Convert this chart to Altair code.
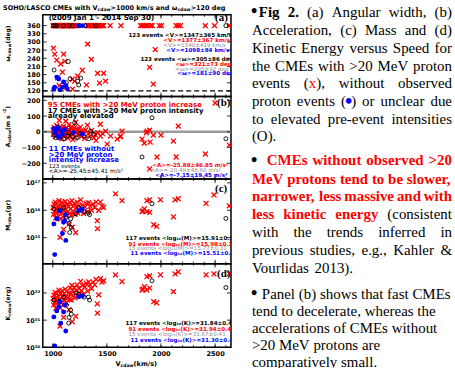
import altair as alt
import pandas as pd

# ---------------- values ----------------
X_DOMAIN = [908, 2647]                 # V_cdaw (km/s)
X_MAJOR = [1000, 1500, 2000, 2500]
X_MINOR = [1000, 1100, 1200, 1300, 1400, 1500, 1600, 1700, 1800, 1900,
           2000, 2100, 2200, 2300, 2400, 2500, 2600]

# (a) angular width (deg)
A_DOMAIN = [100, 400]
A_TICKS = [120, 150, 180, 210, 240, 270, 300, 330, 360]
A_RED = [
    (1003, 360), (1009, 360), (1015, 360), (1021, 360), (1027, 360), (1033, 360), (1039, 360),
    (1045, 360), (1051, 360), (1057, 360), (1063, 360), (1069, 360), (1075, 360), (1081, 360),
    (1087, 360), (1093, 360), (1099, 360), (1105, 360), (1111, 360), (1117, 360), (1123, 360),
    (1129, 360), (1135, 360), (1141, 360), (1147, 360), (1153, 360), (1159, 360), (1165, 360),
    (1171, 360), (1177, 360), (1183, 360), (1189, 360), (1195, 360), (1201, 360), (1208, 360),
    (1216, 360), (1224, 360), (1318, 360), (1326, 360), (1334, 360), (1342, 360), (1350, 360),
    (1358, 360), (1366, 360), (1374, 360), (1382, 360), (1390, 360), (1398, 360), (1406, 360),
    (1414, 360), (1422, 360), (1430, 360), (1438, 360), (1446, 360), (1454, 360), (1462, 360),
    (1470, 360), (1530, 360), (1630, 360), (1812, 360), (1828, 360), (1845, 360), (1862, 360),
    (1880, 360), (1905, 360), (1920, 360), (1985, 360), (2005, 360), (2140, 360), (2160, 360),
    (2180, 360), (2410, 360), (2495, 360), (2635, 360),
    (1006, 277), (1018, 255), (1037, 233), (1100, 255), (1074, 219), (1110, 229), (1089, 189),
    (1322, 292), (1356, 236), (1273, 196), (1230, 175), (1202, 156), (1181, 163), (1089, 134),
    (1312, 142), (1432, 149), (1414, 185), (1488, 156), (1470, 185), (1947, 272), (1895, 207),
    (1929, 145), (1184, 127), (1060, 140), (1045, 168),
]
A_BLACK = [
    (1005, 360), (1020, 360), (1035, 360), (1300, 360), (2600, 360), (1100, 360), (1150, 360),
    (1400, 360), (1180, 360), (1250, 360),
    (1012, 197), (1144, 228), (1230, 156), (1258, 167), (1240, 142), (1160, 165), (1125, 150),
]
A_BLUE = [
    (1240, 360), (1275, 360),
    (1010, 128), (1018, 134), (1037, 171), (1055, 164), (1065, 124), (1089, 134), (1100, 153),
    (1120, 140), (1135, 128),
]

# (b) acceleration (m s^-2)
B_DOMAIN = [-300, 225]
B_TICKS = [-200, -100, 0, 100, 200]
B_RED = [
    (1003, 12), (1008, -18), (1012, 28), (1016, -6), (1020, 5), (1024, -30), (1028, 18),
    (1032, -12), (1036, 40), (1040, 2), (1045, -22), (1050, 24), (1055, -4), (1060, 72),
    (1064, 10), (1068, -35), (1072, 30), (1076, -15), (1080, 6), (1085, -45), (1090, 20),
    (1095, -8), (1100, 35), (1105, -25), (1110, 12), (1115, -2), (1120, 68), (1125, -18),
    (1130, 25), (1135, 5), (1140, -40), (1145, 15), (1150, 45), (1155, -10), (1160, 8),
    (1165, -28), (1170, 22), (1175, -5), (1180, 30), (1185, -50), (1190, 10), (1196, -15),
    (1202, 26), (1208, -35), (1212, 61), (1218, 0), (1225, 15), (1232, -20), (1240, 19),
    (1248, -8), (1256, 30), (1265, -30), (1275, 5), (1285, -15), (1295, -42), (1305, 12),
    (1320, 42), (1330, -12), (1345, -28), (1360, 8), (1380, -38), (1395, -20), (1400, -55),
    (1415, -5), (1440, 48), (1441, -27), (1460, -12), (1488, 4), (1503, -78), (1534, -27),
    (1595, -46), (1626, -27), (1640, 4), (1625, -32),
    (2500, 183), (2160, 36), (1872, 4), (1895, 10), (1865, -6), (1930, -21), (2000, -21),
    (1825, -46), (1846, -72), (1900, -65), (2115, -59), (2410, -141), (2140, -160),
    (1963, -160), (1895, -236), (2632, -84),
]
B_BLACK = [
    (1028, -38), (1135, -27), (1350, 4), (1332, -44), (1202, 57), (1917, 89), (2600, -44),
    (1825, -160), (1180, -30), (1100, -45), (1250, -10), (1060, -35), (1010, -20), (1290, -25),
    (1150, -5), (1220, -40), (1380, -15),
]
B_BLUE = [
    (1010, 20), (1020, -5), (1030, 10), (1040, -25), (1050, 28), (1062, -35), (1075, 5),
    (1090, -15), (1110, 15), (1190, -6), (1273, -15),
]

# (c) log10 mass (g)
C_DOMAIN = [14.05, 17.14]
C_TICKS = [15, 16, 17]
C_RED = [
    (1003, 16.1), (1008, 15.85), (1012, 16.22), (1018, 15.95), (1022, 16.3), (1028, 15.72),
    (1033, 16.05), (1038, 16.25), (1043, 15.9), (1048, 16.15), (1053, 15.78), (1058, 16.35),
    (1063, 16.0), (1067, 15.01), (1070, 15.68), (1075, 16.2), (1080, 15.9), (1085, 16.3),
    (1090, 16.05), (1095, 15.75), (1100, 15.3), (1104, 16.18), (1110, 15.92), (1115, 16.32),
    (1120, 16.02), (1126, 15.8), (1132, 16.22), (1138, 15.95), (1144, 16.12), (1150, 15.5),
    (1155, 15.88), (1160, 16.28), (1166, 16.05), (1172, 15.82), (1176, 16.35), (1180, 15.38),
    (1186, 16.15), (1192, 15.95), (1198, 16.25), (1205, 15.85), (1212, 15.18), (1218, 16.1),
    (1225, 16.3), (1232, 15.9), (1240, 16.15), (1248, 15.98), (1258, 16.38), (1266, 16.02),
    (1275, 16.2), (1285, 15.88), (1298, 16.12), (1310, 16.25), (1322, 15.95), (1332, 16.28),
    (1345, 16.15), (1358, 16.0), (1372, 16.22), (1388, 16.1), (1400, 16.3), (1411, 15.62),
    (1413, 15.33), (1425, 16.0), (1440, 16.3), (1455, 16.15), (1470, 16.1), (1580, 16.6),
    (1640, 16.35),
    (2490, 16.56), (2160, 16.42), (2130, 16.38), (1995, 16.38), (1870, 16.35), (1895, 16.38),
    (1846, 16.05), (1834, 15.98), (1870, 15.95), (1895, 15.92), (1825, 15.95), (2115, 15.76),
    (1933, 15.47), (1960, 15.41), (2417, 16.25), (2632, 16.16),
]
C_BLACK = [
    (1010, 16.05), (1165, 15.69), (1171, 15.37), (1157, 15.19), (1340, 15.84), (1212, 15.87),
    (1917, 16.24), (2600, 15.7), (1330, 15.9), (1150, 15.52), (1060, 16.0), (1125, 15.75),
    (1240, 16.1), (1290, 15.95), (1100, 16.1),
]
C_BLUE = [
    (1018, 14.38), (1010, 15.5), (1037, 15.69), (1067, 15.98), (1110, 15.62), (1120, 15.84),
    (1089, 15.15), (1120, 14.9), (1240, 15.98), (1273, 16.05), (1100, 15.56),
]

# (d) log10 kinetic energy (erg)
D_DOMAIN = [30.0, 33.08]
D_TICKS = [30, 31, 32]
D_RED = [
    (1003, 31.8), (1008, 31.56), (1012, 31.93), (1018, 31.66), (1022, 32.02), (1028, 31.44),
    (1033, 31.78), (1038, 31.98), (1043, 31.64), (1048, 31.9), (1053, 31.53), (1058, 32.1),
    (1063, 31.76), (1067, 30.78), (1070, 31.45), (1075, 31.97), (1080, 31.68), (1085, 32.08),
    (1090, 31.84), (1095, 31.55), (1100, 31.1), (1104, 31.98), (1110, 31.73), (1115, 32.14),
    (1120, 31.85), (1126, 31.64), (1132, 32.07), (1138, 31.81), (1144, 31.99), (1150, 31.38),
    (1155, 31.77), (1160, 32.18), (1166, 31.96), (1172, 31.74), (1176, 32.28), (1180, 30.94),
    (1186, 32.09), (1192, 31.9), (1198, 32.21), (1205, 31.82), (1212, 31.14), (1218, 32.08),
    (1225, 32.3), (1232, 31.9), (1240, 32.17), (1248, 32.01), (1258, 32.43), (1266, 32.08),
    (1275, 32.27), (1285, 31.96), (1298, 32.22), (1310, 32.36), (1322, 32.07), (1332, 32.41),
    (1345, 32.3), (1358, 32.16), (1372, 32.4), (1388, 32.3), (1400, 32.5), (1411, 31.6),
    (1413, 31.26), (1425, 31.93), (1440, 32.53), (1455, 32.4), (1470, 32.45), (1580, 32.67),
    (1640, 32.42),
    (2490, 32.7), (2160, 32.78), (2130, 32.7), (1995, 32.67), (1870, 32.6), (1895, 32.63),
    (1846, 32.23), (1834, 32.15), (1870, 32.11), (1895, 32.18), (1825, 32.11), (2115, 32.05),
    (1933, 31.68), (1960, 31.64), (2417, 32.67), (2632, 32.71),
]
D_BLACK = [
    (1010, 31.74), (1165, 31.37), (1171, 31.22), (1147, 30.89), (1340, 31.74), (1212, 32.0),
    (1917, 32.45), (2600, 32.2), (1330, 31.85), (1150, 31.1), (1060, 31.7), (1125, 31.55),
    (1240, 31.95), (1290, 31.85), (1100, 31.85),
]
D_BLUE = [
    (1018, 30.05), (1010, 31.12), (1074, 30.89), (1120, 30.6), (1067, 31.68), (1110, 31.56),
    (1240, 31.86), (1273, 31.89), (1037, 31.34), (1055, 31.49), (1100, 31.3),
]

# ---------------- styling / layout ----------------
RED, BLUE, GRAY, BLACK = "#ff0000", "#0000ff", "#8c8c8c", "#000000"
SANS, SERIF = "DejaVu Sans", "Liberation Serif"
W = 189
LEFT, TOP = 42, 13
XMARK = "M-1,-1L1,1M1,-1L-1,1"


def pts(pairs):
    return pd.DataFrame(pairs, columns=["v", "y"])


def build_panel(top, h, ydom, yticks, red, black, blue, label_expr=None,
                xaxis=False, refs=(), texts=(), extra=()):
    xs = alt.Scale(domain=X_DOMAIN, nice=False, zero=False)
    ys = alt.Scale(domain=ydom, nice=False, zero=False)
    ykw = dict(values=yticks, ticks=False, tickSize=0, domain=False, grid=False, title=None,
               labelFont=SANS, labelFontSize=6.4, labelFontWeight="bold", labelPadding=3,
               labelColor=BLACK)
    if label_expr:
        ykw["labelExpr"] = label_expr
    yax = alt.Axis(**ykw)
    if xaxis:
        xax = alt.Axis(values=X_MAJOR, ticks=False, tickSize=0, domain=False, grid=False,
                       title=None, labelFont=SANS, labelFontSize=6.6, labelFontWeight="bold",
                       labelPadding=3, labelFlush=False, format="d", labelColor=BLACK)
    else:
        xax = None
    X = alt.X("v:Q", scale=xs, axis=xax)
    Y = alt.Y("y:Q", scale=ys, axis=yax)
    layers = []
    for (val, color, width, dash) in refs:
        kw = dict(color=color, strokeWidth=width)
        if dash:
            kw["strokeDash"] = dash
        layers.append(alt.Chart(pd.DataFrame({"y": [val]})).mark_rule(**kw).encode(y=Y))
    tx_major = pd.DataFrame({"v": X_MAJOR})
    tx_minor = pd.DataFrame({"v": X_MINOR})
    ty = pd.DataFrame({"y": yticks})
    for d, ln in ((tx_major, 4), (tx_minor, 2)):
        layers.append(alt.Chart(d).mark_rule(color=BLACK, strokeWidth=0.8).encode(
            x=X, y=alt.value(h), y2=alt.value(h - ln)))
        layers.append(alt.Chart(d).mark_rule(color=BLACK, strokeWidth=0.8).encode(
            x=X, y=alt.value(0), y2=alt.value(ln)))
    layers.append(alt.Chart(ty).mark_rule(color=BLACK, strokeWidth=0.8).encode(
        y=Y, x=alt.value(0), x2=alt.value(4)))
    layers.append(alt.Chart(ty).mark_rule(color=BLACK, strokeWidth=0.8).encode(
        y=Y, x=alt.value(W - 4), x2=alt.value(W)))
    layers.append(alt.Chart(pts(red)).mark_point(
        shape=XMARK, filled=False, color=RED, strokeWidth=1.3, size=24, opacity=1,
        clip=True).encode(x=X, y=Y))
    layers.append(alt.Chart(pts(black)).mark_point(
        shape="circle", filled=False, color=BLACK, strokeWidth=0.9, size=16, opacity=1,
        clip=True).encode(x=X, y=Y))
    layers.append(alt.Chart(pts(blue)).mark_point(
        shape="circle", filled=True, color=BLUE, size=24, opacity=1,
        clip=True).encode(x=X, y=Y))
    for (s, x, y, color, size, weight, font) in texts:
        layers.append(alt.Chart(pd.DataFrame({"t": [s]})).mark_text(
            text=s, align="left", baseline="middle", color=color, fontSize=size,
            fontWeight=weight, font=font, clip=True).encode(
            x=alt.value(x - LEFT), y=alt.value(y - top)))
    layers.extend(extra)
    return alt.layer(*layers).properties(
        width=W, height=h, view=alt.ViewBackground(stroke=BLACK, strokeWidth=1.5))


B = "bold"
N = "normal"
ST = 5.6   # size of the statistics lines
LB = 7.0   # size of the panel (b) legend lines
TXT_A = [
    ("(2009 Jan 1 - 2014 Sep 30)", 48, 16.5, BLACK, 7.1, B, SANS),
    ("(a)", 215, 16, BLACK, 11, B, SERIF),
    ("123 events <V>=1347±365 km/s", 128, 33, BLACK, ST, B, SANS),
    ("<V>=1377±367 km/s", 163, 38, RED, ST, B, SANS),
    ("<V>=1340±419 km/s", 163, 43, GRAY, ST, N, SANS),
    ("<V>=1098±84 km/s", 166, 48, BLUE, ST, B, SANS),
    ("123 events <ω>=305±86 deg", 140, 57, BLACK, ST, B, SANS),
    ("<ω>=321±73 deg", 175, 62, RED, ST, B, SANS),
    ("<ω>=295±92 deg", 175, 67, GRAY, ST, N, SANS),
    ("<ω>=181±90 deg", 177, 72, BLUE, ST, B, SANS),
]
TXT_B = [
    ("95 CMEs with >20 MeV proton increase", 47, 104, RED, LB, B, SANS),
    ("17 CMEs with >20 MeV proton intensity", 47, 109.5, BLACK, LB, B, SANS),
    ("already elevated", 47, 115, BLACK, LB, B, SANS),
    ("(b)", 217, 102, BLACK, 11, B, SERIF),
    ("11 CMEs without", 48, 148, BLUE, LB, B, SANS),
    (">20 MeV proton", 48, 153.5, BLUE, LB, B, SANS),
    ("intensity increase", 48, 159, BLUE, LB, B, SANS),
    ("123 events", 48, 164.8, BLACK, 5.6, N, SANS),
    ("<A>=-25.45±45.41 m/s²", 48, 170.2, BLACK, 5.9, N, SANS),
    ("<A>=-25.88±46.85 m/s²", 152, 163.5, RED, ST, B, SANS),
    ("<A>=-20.49±48.60 m/s²", 150, 169, GRAY, ST, N, SANS),
    ("<A>=-7.15±19.45 m/s²", 155, 174.3, BLUE, ST, B, SANS),
]
TXT_C = [
    ("(c)", 215, 188, BLACK, 11, B, SERIF),
    ("117 events <log₁₀(M)>=15.91±0.39", 125, 237.7, BLACK, ST, B, SANS),
    ("91 events <log₁₀(M)>=15.98±0.32", 128, 243, RED, ST, B, SANS),
    ("15 events <log₁₀(M)>=15.77±0.31", 128, 247.7, GRAY, ST, N, SANS),
    ("11 events <log₁₀(M)>=15.51±0.43", 130, 252.3, BLUE, ST, B, SANS),
]
TXT_D = [
    ("(d)", 217, 273, BLACK, 11, B, SERIF),
    ("117 events <log₁₀(K)>=31.84±0.48", 125, 323, BLACK, ST, B, SANS),
    ("91 events <log₁₀(K)>=31.94±0.44", 128, 328.5, RED, ST, B, SANS),
    ("15 events <log₁₀(K)>=31.67±0.41", 128, 334, GRAY, ST, N, SANS),
    ("11 events <log₁₀(K)>=31.30±0.47", 130, 339.3, BLUE, ST, B, SANS),
]

EXP_C = ("datum.value == 15 ? '10¹⁵' : datum.value == 16 ? '10¹⁶' : '10¹⁷'")
EXP_D = ("datum.value == 30 ? '10³⁰' : datum.value == 31 ? '10³¹' : '10³²'")

# ---------------- font metrics for placing text pieces ----------------
TIMES_R = {" ": 250, "(": 333, ")": 333, ",": 250, "-": 333, ".": 250, "/": 278, ":": 278,
           ">": 564, "<": 564, "&": 778, "•": 350}
TIMES_B = {" ": 250, "(": 333, ")": 333, ",": 250, "-": 333, ".": 250, ">": 570, "&": 833,
           "•": 350}
for ch in "0123456789":
    TIMES_R[ch] = 500
    TIMES_B[ch] = 500
for ch, w in zip("ABCDEFGHIJKLMNOPQRSTUVWXYZ",
                 [722, 667, 667, 722, 611, 556, 722, 722, 333, 389, 722, 611, 889, 722, 722, 556,
                  722, 667, 556, 611, 722, 722, 944, 722, 722, 611]):
    TIMES_R[ch] = w
for ch, w in zip("abcdefghijklmnopqrstuvwxyz",
                 [444, 500, 444, 500, 444, 333, 500, 500, 278, 278, 500, 278, 778, 500, 500, 500,
                  500, 333, 389, 278, 500, 500, 722, 500, 500, 444]):
    TIMES_R[ch] = w
for ch, w in zip("ABCDEFGHIJKLMNOPQRSTUVWXYZ",
                 [722, 667, 722, 722, 667, 611, 778, 778, 389, 500, 778, 667, 944, 722, 778, 611,
                  778, 722, 556, 667, 722, 722, 1000, 722, 722, 667]):
    TIMES_B[ch] = w
for ch, w in zip("abcdefghijklmnopqrstuvwxyz",
                 [500, 556, 444, 556, 444, 333, 500, 556, 278, 333, 556, 278, 833, 556, 500, 556,
                  556, 444, 389, 333, 556, 500, 722, 500, 500, 444]):
    TIMES_B[ch] = w
DEJAVU_B = {" ": 348, "(": 457, ")": 457, "-": 415, "/": 365, ">": 838, "<": 838, "=": 838,
            "ω": 920, ".": 380}
for ch in "0123456789":
    DEJAVU_B[ch] = 696
DEJAVU_B.update({"A": 774, "C": 734, "E": 683, "H": 837, "K": 775, "L": 637, "M": 995,
                 "O": 850, "S": 720, "V": 774, "a": 675, "c": 593, "d": 716, "e": 678,
                 "g": 716, "h": 712, "i": 343, "k": 665, "m": 1042, "n": 712, "r": 493,
                 "s": 595, "t": 478, "w": 924})


def sans_w(s, size):
    return sum(DEJAVU_B.get(c, 700) for c in s) * size / 1000.0


FS = 15
STY = {
    "reg": dict(font=SERIF, fontSize=FS, fontWeight="normal", color=BLACK),
    "bold": dict(font=SERIF, fontSize=FS, fontWeight="bold", color=BLACK),
    "rb": dict(font=SERIF, fontSize=FS, fontWeight="bold", color=RED),
    "red": dict(font=SERIF, fontSize=FS, fontWeight="normal", color=RED),
    "dot": dict(font=SERIF, fontSize=21, fontWeight="bold", color=BLUE),
    "bul": dict(font=SERIF, fontSize=18, fontWeight="bold", color=BLACK),
}


def piece_w(style, s):
    if style == "dot":
        return 0.35 * FS
    table = TIMES_B if STY[style]["fontWeight"] == "bold" else TIMES_R
    return sum(table.get(c, 500) for c in s) * FS / 1000.0


RIGHT_EDGE = 453
BULLETS = [(251, 10.5), (251, 159.5), (251, 293.5)]
LINES = [
    (10, 259, True, [("bold", "Fig 2."), ("reg", " (a) Angular width, (b)")]),
    (28, 252, True, [("reg", "Acceleration, (c) Mass and (d)")]),
    (46.5, 252, True, [("reg", "Kinetic Energy versus Speed for")]),
    (64, 252, True, [("reg", "the CMEs with >20 MeV proton")]),
    (82, 252, True, [("reg", "events ("), ("red", "x"), ("reg", "), without observed")]),
    (100, 252, True, [("reg", "proton events ("), ("dot", "•"), ("reg", ") or unclear due")]),
    (117.5, 252, True, [("reg", "to elevated pre-event intensities")]),
    (135, 252, False, [("reg", "(O).")]),
    (159, 267, True, [("rb", "CMEs without observed >20")]),
    (177.5, 252, True, [("rb", "MeV protons tend to be slower,")]),
    (195.5, 252, True, [("rb", "narrower, less massive and with")]),
    (213.5, 252, True, [("rb", "less kinetic energy"), ("reg", " (consistent")]),
    (231.5, 252, True, [("reg", "with the trends inferred in")]),
    (249.5, 252, True, [("reg", "previous studies, e.g., Kahler &")]),
    (267, 252, False, [("reg", "Vourlidas 2013).")]),
    (293, 262, False, [("reg", "Panel (b) shows that fast CMEs")]),
    (310.5, 252, False, [("reg", "tend to decelerate, whereas the")]),
    (328, 252, False, [("reg", "accelerations of CMEs without")]),
    (345, 252, False, [("reg", ">20 MeV protons are")]),
    (362, 252, False, [("reg", "comparatively small.")]),
]


def words_of(segments):
    words, cur = [], []
    for style, text in segments:
        parts = text.split(" ")
        for i, p in enumerate(parts):
            if i > 0 and cur:
                words.append(cur)
                cur = []
            if p:
                cur.append((style, p))
    if cur:
        words.append(cur)
    return words


rows = {k: [] for k in STY}
for (bx, by) in BULLETS:
    rows["bul"].append({"X": bx, "Y": by, "t": "•"})
for (y, x0, justify, segs) in LINES:
    words = words_of(segs)
    widths = [sum(piece_w(s, t) for s, t in w) for w in words]
    if justify and len(words) > 1:
        gap = (RIGHT_EDGE - x0 - sum(widths)) / (len(words) - 1)
    else:
        gap = FS * 0.25
    x = x0
    for w, wd in zip(words, widths):
        xx = x
        for s, t in w:
            if s == "dot":
                rows[s].append({"X": xx - 1.0, "Y": y + 0.5, "t": t})
            else:
                rows[s].append({"X": xx, "Y": y, "t": t})
            xx += piece_w(s, t)
        x += wd + gap

# ---------------- titles with subscripts, laid out piece by piece ----------------
MAIN_S, SUB_S = 6.5, 4.5
TITLE_PIECES = [("SOHO/LASCO CMEs with V", "m"), ("cdaw", "s"), (">1000 km/s and ω", "m"),
                ("cdaw", "s"), (">120 deg", "m")]
XTITLE_PIECES = [("V", "m"), ("cdaw", "s"), (" (km/s)", "m")]
YTITLES = [  # (pieces, start y at the bottom of the rotated text)
    ([("ω", "m"), ("cdaw", "s"), (" (deg)", "m")], 60),
    ([("A", "m"), ("cdaw", "s"), (" (m s", "m"), ("-2", "p"), (")", "m")], 146),
    ([("M", "m"), ("cdaw", "s"), (" (gr)", "m")], 230),
    ([("K", "m"), ("cdaw", "s"), (" (erg)", "m")], 320),
]
ROT_MAIN_S, ROT_SUB_S = 6.0, 4.3

lab = {"m": [], "s": [], "xm": [], "xs": [], "rm": [], "rs": [], "rp": []}
x = 2.0
for t, k in TITLE_PIECES:
    size = MAIN_S if k == "m" else SUB_S
    lab[k].append({"X": x, "Y": 6 if k == "m" else 8.3, "t": t})
    x += sans_w(t, size)
x = 115.0
for t, k in XTITLE_PIECES:
    size = 6.6 if k == "m" else SUB_S
    lab["x" + k].append({"X": x, "Y": 363.5 if k == "m" else 365.5, "t": t})
    x += sans_w(t, size)
for pieces, y0 in YTITLES:
    y = float(y0)
    for t, k in pieces:
        size = ROT_MAIN_S if k == "m" else ROT_SUB_S
        xx = {"m": 7.0, "s": 9.0, "p": 4.2}[k]
        lab["r" + k].append({"X": xx, "Y": y, "t": t})
        y -= sans_w(t, size)

# annotation layers use raw pixels relative to panel (a)'s origin
AX = alt.X("X:Q", scale=None, axis=None)
AY = alt.Y("Y:Q", scale=None, axis=None)


def shift(recs):
    return pd.DataFrame([{"X": r["X"] - LEFT, "Y": r["Y"] - TOP, "t": r["t"]} for r in recs])


ann_layers = [
    alt.Chart(pd.DataFrame({"X": [-LEFT], "X2": [455 - LEFT], "Y": [-TOP],
                            "Y2": [368 - TOP]})).mark_rect(opacity=0).encode(
        x=AX, x2="X2:Q", y=AY, y2="Y2:Q")
]
for k, st in STY.items():
    if rows[k]:
        ann_layers.append(alt.Chart(shift(rows[k])).mark_text(
            align="left", baseline="middle", **st).encode(x=AX, y=AY, text="t:N"))


def lab_layer(recs, size, angle):
    return alt.Chart(shift(recs)).mark_text(
        align="left", baseline="middle", font=SANS, fontSize=size, fontWeight="bold",
        color=BLACK, angle=angle).encode(x=AX, y=AY, text="t:N")


ann_layers.append(lab_layer(lab["m"], MAIN_S, 0))
ann_layers.append(lab_layer(lab["s"], SUB_S, 0))
ann_layers.append(lab_layer(lab["xm"], 6.6, 0))
ann_layers.append(lab_layer(lab["xs"], SUB_S, 0))
ann_layers.append(lab_layer(lab["rm"], ROT_MAIN_S, 270))
ann_layers.append(lab_layer(lab["rs"], ROT_SUB_S, 270))
ann_layers.append(lab_layer(lab["rp"], ROT_SUB_S, 270))

pa = build_panel(13, 82, A_DOMAIN, A_TICKS, A_RED, A_BLACK, A_BLUE,
                 refs=[(120, BLACK, 1.2, [5, 3])], texts=TXT_A, extra=ann_layers)
pb = build_panel(95, 83, B_DOMAIN, B_TICKS, B_RED, B_BLACK, B_BLUE,
                 refs=[(0, "#9a9a9a", 2.5, None)], texts=TXT_B)
pc = build_panel(178, 85, C_DOMAIN, C_TICKS, C_RED, C_BLACK, C_BLUE, label_expr=EXP_C,
                 texts=TXT_C)
pd_ = build_panel(263, 84, D_DOMAIN, D_TICKS, D_RED, D_BLACK, D_BLUE, label_expr=EXP_D,
                  xaxis=True, texts=TXT_D)

chart = alt.vconcat(pa, pb, pc, pd_, spacing=0, bounds="flush").properties(
    padding=0, background="white"
).configure_view(stroke="transparent")

chart.save("out.html", embed_options={"renderer": "svg", "actions": False})
